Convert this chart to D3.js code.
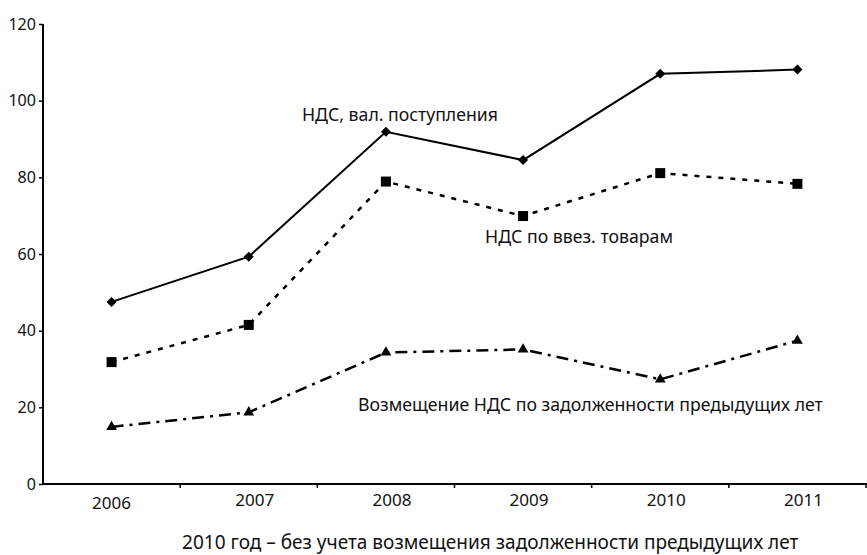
<!DOCTYPE html>
<html>
<head>
<meta charset="utf-8">
<script src="https://cdn.jsdelivr.net/npm/d3@7/dist/d3.min.js"></script>
<style>
  html, body { margin: 0; padding: 0; background: #fff; }
  svg { display: block; font-family: "Noto Sans", "Open Sans", sans-serif; }
</style>
</head>
<body>
<svg id="chart" width="867" height="555"></svg>
<script>
const years = ["2006", "2007", "2008", "2009", "2010", "2011"];
const vatReceipts = [47.5, 59.3, 91.9, 84.5, 107.0, 108.1];
const vatImports = [31.8, 41.5, 78.9, 69.9, 81.1, 78.3];
const vatRefunds = [14.9, 18.7, 34.3, 35.1, 27.3, 37.4];
const yTicks = [0, 20, 40, 60, 80, 100, 120];
const seriesNames = ["НДС, вал. поступления", "НДС по ввез. товарам", "Возмещение НДС по задолженности предыдущих лет"];
const footnote = "2010 год – без учета возмещения задолженности предыдущих лет";

const svg = d3.select("#chart");
const x0 = 43, x1 = 866, yTop = 24, yBot = 484;

const x = d3.scaleBand().domain(years).range([x0, x1]).padding(0);
const y = d3.scaleLinear().domain([0, 120]).range([yBot, yTop]);
const cx = d => x(d) + x.bandwidth() / 2;

function fit(sel, w) {
  const n = sel.node();
  const base = parseFloat(sel.attr("font-size"));
  const len = n.getComputedTextLength();
  sel.attr("font-size", (base * w / len).toFixed(2));
}

// Y axis
const yAxis = svg.append("g").attr("transform", `translate(${x0},0)`)
  .call(d3.axisLeft(y).tickValues(yTicks).tickSize(4).tickPadding(3).tickFormat(d3.format("d")));
yAxis.select(".domain").attr("stroke", "#000").attr("stroke-width", 2).attr("d", `M0,${yBot}V${yTop}`);
yAxis.selectAll(".tick line").attr("stroke", "#000").attr("stroke-width", 1.5);
yAxis.selectAll(".tick text").attr("font-size", 16).attr("fill", "#111")
  .attr("font-family", "Noto Sans").each(function(){ fit(d3.select(this), d3.select(this).text().length * 9.2); });

// X axis
const xAxis = svg.append("g").attr("transform", `translate(0,${yBot})`);
xAxis.append("line").attr("x1", x0).attr("x2", 867).attr("y1", 0).attr("y2", 0)
  .attr("stroke", "#000").attr("stroke-width", 2);
xAxis.selectAll("line.tk").data(years.slice(1).concat(["end"])).join("line").attr("class", "tk")
  .attr("x1", (d, i) => x0 + x.step() * (i + 1)).attr("x2", (d, i) => x0 + x.step() * (i + 1))
  .attr("y1", 0).attr("y2", 4).attr("stroke", "#000").attr("stroke-width", 1.5);
xAxis.selectAll("text").data(years).join("text")
  .attr("x", (d, i) => cx(d) + (i === 0 ? 0 : 6))
  .attr("y", (d, i) => i === 0 ? 25 : 22)
  .attr("text-anchor", "middle").attr("font-size", 17).attr("fill", "#111")
  .text(d => d)
  .each(function(){ fit(d3.select(this), 39); });

// Lines
const line = vals => d3.line().x((d, i) => cx(years[i])).y(d => y(d))(vals);

svg.append("path").attr("d", line(vatReceipts)).attr("fill", "none")
  .attr("stroke", "#000").attr("stroke-width", 2);
svg.append("path").attr("d", line(vatImports)).attr("fill", "none")
  .attr("stroke", "#000").attr("stroke-width", 2.5).attr("stroke-dasharray", "5,7");
svg.append("path").attr("d", line(vatRefunds)).attr("fill", "none")
  .attr("stroke", "#000").attr("stroke-width", 2.5).attr("stroke-dasharray", "12,6,3,6");

// Markers
svg.append("g").selectAll("path").data(vatReceipts).join("path")
  .attr("transform", (d, i) => `translate(${cx(years[i])},${y(d)}) rotate(45)`)
  .attr("d", d3.symbol(d3.symbolSquare, 50)).attr("fill", "#000");
svg.append("g").selectAll("rect").data(vatImports).join("rect")
  .attr("x", (d, i) => cx(years[i]) - 5).attr("y", d => y(d) - 5)
  .attr("width", 10).attr("height", 10).attr("fill", "#000");
svg.append("g").selectAll("path").data(vatRefunds).join("path")
  .attr("transform", (d, i) => `translate(${cx(years[i])},${y(d)})`)
  .attr("d", d3.symbol(d3.symbolTriangle, 50)).attr("fill", "#000");

// Series labels
const labelPos = [[302, 121, 196], [485, 243, 188], [358, 411, 465]];
seriesNames.forEach((name, i) => {
  const t = svg.append("text").attr("x", labelPos[i][0]).attr("y", labelPos[i][1])
    .attr("font-size", 16).attr("fill", "#111").text(name);
  fit(t, labelPos[i][2]);
});

// Footnote
const fn = svg.append("text").attr("x", 182).attr("y", 549)
  .attr("font-size", 18).attr("fill", "#111").text(footnote);
fit(fn, 617);
</script>
</body>
</html>
